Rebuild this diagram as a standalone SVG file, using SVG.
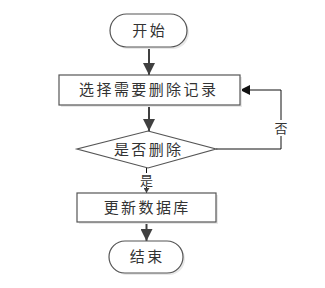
<svg xmlns="http://www.w3.org/2000/svg" width="325" height="288" viewBox="0 0 325 288">
<style>
.node{fill:#fff;stroke:#555;stroke-width:1.2}
.shadow{fill:#e8e8e8}
.t{font-family:"Liberation Serif","Noto Sans CJK SC",serif;font-size:15px;letter-spacing:2.4px;fill:#333;text-anchor:middle;dominant-baseline:central}
.lbl{font-family:"Liberation Serif","Noto Sans CJK SC",serif;font-size:13px;fill:#333;text-anchor:middle;dominant-baseline:central}
.main{stroke:#404040;stroke-width:2;fill:none}
.thin{stroke:#111;stroke-width:1;fill:none}
</style>
<defs>
<marker id="big" markerUnits="userSpaceOnUse" markerWidth="14" markerHeight="12" refX="12" refY="6" orient="auto">
<path d="M0,0 L12,6 L0,12 Z" fill="#404040"/>
</marker>
<marker id="mid" markerUnits="userSpaceOnUse" markerWidth="12" markerHeight="10" refX="10" refY="5" orient="auto">
<path d="M0,0 L10,5 L0,10 Z" fill="#111"/>
</marker>
<marker id="small" markerUnits="userSpaceOnUse" markerWidth="6" markerHeight="6" refX="5" refY="3" orient="auto">
<path d="M0,0 L5,3 L0,6 Z" fill="#404040"/>
</marker>
</defs>
<g id="connectors">
<line class="main" x1="149" y1="47" x2="149" y2="75" marker-end="url(#big)"/>
<line class="main" x1="149" y1="105" x2="149" y2="131" marker-end="url(#big)"/>
<polyline class="thin" points="216,149 281,149 281,90 240,90" marker-end="url(#mid)"/>
<line class="thin" x1="146.5" y1="168" x2="146.5" y2="193" marker-end="url(#small)"/>
<line class="main" x1="146.5" y1="222" x2="146.5" y2="241" marker-end="url(#big)"/>
<rect x="273" y="120" width="16" height="16" fill="#fff"/>
<text class="lbl" x="281" y="128">否</text>
<rect x="139" y="173" width="15" height="14" fill="#fff"/>
<text class="lbl" x="146.5" y="180">是</text>
</g>
<g id="start">
<rect class="shadow" x="112" y="16" width="77" height="33" rx="16.5"/>
<rect class="node" x="110" y="14" width="77" height="33" rx="16.5"/>
<text class="t" x="149.7" y="30.5">开始</text>
</g>
<g id="select">
<rect class="shadow" x="61" y="77" width="181" height="30"/>
<rect class="node" x="59" y="75" width="181" height="30"/>
<text class="t" x="148.7" y="90">选择需要删除记录</text>
</g>
<g id="decision">
<polygon class="node" points="148,131 216,149 148,168 77,149"/>
<text class="t" x="148.7" y="149.5">是否删除</text>
</g>
<g id="update">
<rect class="shadow" x="79" y="195" width="139" height="29"/>
<rect class="node" x="77" y="193" width="139" height="29"/>
<text class="t" x="147.2" y="207.5">更新数据库</text>
</g>
<g id="end">
<rect class="shadow" x="111" y="243" width="74" height="32" rx="16"/>
<rect class="node" x="109" y="241" width="74" height="32" rx="16"/>
<text class="t" x="147.2" y="257">结束</text>
</g>
</svg>
